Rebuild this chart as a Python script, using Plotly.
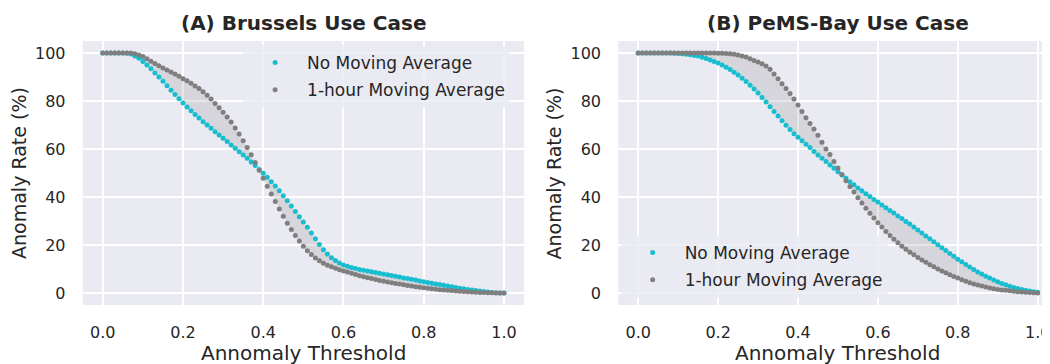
import plotly.graph_objects as go

# ---------------- data ----------------
thresholds = [
    0.00, 0.01, 0.02, 0.03, 0.04, 0.05, 0.06, 0.07, 0.08, 0.09,
    0.10, 0.11, 0.12, 0.13, 0.14, 0.15, 0.16, 0.17, 0.18, 0.19,
    0.20, 0.21, 0.22, 0.23, 0.24, 0.25, 0.26, 0.27, 0.28, 0.29,
    0.30, 0.31, 0.32, 0.33, 0.34, 0.35, 0.36, 0.37, 0.38, 0.39,
    0.40, 0.41, 0.42, 0.43, 0.44, 0.45, 0.46, 0.47, 0.48, 0.49,
    0.50, 0.51, 0.52, 0.53, 0.54, 0.55, 0.56, 0.57, 0.58, 0.59,
    0.60, 0.61, 0.62, 0.63, 0.64, 0.65, 0.66, 0.67, 0.68, 0.69,
    0.70, 0.71, 0.72, 0.73, 0.74, 0.75, 0.76, 0.77, 0.78, 0.79,
    0.80, 0.81, 0.82, 0.83, 0.84, 0.85, 0.86, 0.87, 0.88, 0.89,
    0.90, 0.91, 0.92, 0.93, 0.94, 0.95, 0.96, 0.97, 0.98, 0.99,
    1.00,
]

brussels_no_ma = [
    100, 100, 100, 100, 100, 100, 99.9, 99.6, 98.8, 97.8,
    96.5, 95.0, 93.4, 91.7, 90.0, 88.2, 86.4, 84.5, 82.7, 80.9,
    79.2, 77.5, 75.9, 74.4, 72.9, 71.4, 70.0, 68.6, 67.2, 65.8,
    64.5, 63.1, 61.7, 60.3, 58.9, 57.5, 56.1, 54.6, 53.1, 51.5,
    49.9, 48.2, 46.4, 44.6, 42.6, 40.5, 38.4, 36.3, 34.0, 31.8,
    29.6, 27.4, 25.0, 22.6, 20.2, 18.0, 16.2, 14.7, 13.5, 12.5,
    11.7, 11.1, 10.6, 10.2, 9.8, 9.5, 9.2, 8.9, 8.5, 8.2,
    7.9, 7.6, 7.3, 7.0, 6.7, 6.3, 6.0, 5.7, 5.4, 5.0,
    4.7, 4.4, 4.1, 3.8, 3.5, 3.2, 2.9, 2.6, 2.3, 2.0,
    1.8, 1.5, 1.3, 1.0, 0.8, 0.6, 0.4, 0.25, 0.12, 0.05,
    0,
]

brussels_1h_ma = [
    100, 100, 100, 100, 100, 100, 100, 100, 99.7, 99.2,
    98.5, 97.6, 96.6, 95.6, 94.7, 93.8, 92.9, 92.1, 91.2, 90.3,
    89.3, 88.4, 87.4, 86.3, 85.2, 83.9, 82.4, 80.8, 79.0, 77.2,
    75.3, 73.3, 71.2, 68.8, 66.2, 63.4, 60.6, 57.6, 54.4, 51.1,
    47.8, 44.5, 41.3, 38.1, 35.0, 32.0, 29.1, 26.5, 24.0, 21.7,
    19.5, 17.6, 16.0, 14.6, 13.4, 12.4, 11.6, 10.9, 10.3, 9.7,
    9.2, 8.7, 8.2, 7.7, 7.2, 6.8, 6.4, 6.0, 5.6, 5.2,
    4.9, 4.6, 4.3, 4.0, 3.7, 3.4, 3.1, 2.9, 2.6, 2.4,
    2.2, 2.0, 1.8, 1.6, 1.4, 1.2, 1.1, 1.0, 0.8, 0.7,
    0.6, 0.5, 0.4, 0.3, 0.25, 0.2, 0.15, 0.1, 0.05, 0.02,
    0,
]

pems_no_ma = [
    100, 100, 100, 100, 100, 100, 100, 100, 100, 99.9,
    99.8, 99.7, 99.5, 99.3, 99.0, 98.7, 98.2, 97.7, 97.1, 96.5,
    95.8, 95.0, 94.1, 93.1, 92.0, 90.8, 89.5, 88.1, 86.6, 85.0,
    83.3, 81.5, 79.6, 77.6, 75.6, 73.7, 71.8, 69.9, 68.1, 66.4,
    64.9, 63.4, 62.0, 60.6, 59.0, 57.5, 56.1, 54.8, 53.3, 52.0,
    50.5, 49.2, 47.8, 46.4, 45.1, 43.8, 42.6, 41.4, 40.2, 39.0,
    37.9, 36.7, 35.5, 34.4, 33.3, 32.1, 31.0, 29.8, 28.7, 27.5,
    26.3, 25.0, 23.8, 22.6, 21.4, 20.1, 18.9, 17.7, 16.5, 15.3,
    14.1, 13.0, 11.9, 10.8, 9.8, 8.8, 7.9, 7.0, 6.2, 5.4,
    4.7, 4.0, 3.4, 2.8, 2.3, 1.9, 1.5, 1.1, 0.8, 0.5,
    0.3,
]

pems_1h_ma = [
    100, 100, 100, 100, 100, 100, 100, 100, 100, 100,
    100, 100, 100, 100, 100, 100, 100, 100, 100, 100,
    99.9, 99.9, 99.8, 99.7, 99.5, 99.2, 98.8, 98.3, 97.6, 96.9,
    96.3, 95.5, 94.6, 93.2, 91.2, 89.3, 87.2, 85.2, 83.1, 80.8,
    78.3, 75.6, 73.0, 70.6, 68.3, 65.7, 62.8, 60.0, 57.7, 54.8,
    52.1, 49.4, 46.8, 44.4, 42.1, 39.7, 37.5, 35.3, 33.2, 31.2,
    29.3, 27.5, 25.6, 24.0, 22.4, 20.9, 19.5, 18.2, 17.0, 15.9,
    14.8, 13.8, 12.8, 11.8, 10.9, 10.0, 9.2, 8.4, 7.6, 6.9,
    6.2, 5.5, 4.9, 4.3, 3.8, 3.3, 2.9, 2.5, 2.1, 1.8,
    1.5, 1.3, 1.1, 0.9, 0.7, 0.55, 0.4, 0.3, 0.2, 0.1,
    0,
]

panel_titles = ["(A) Brussels Use Case", "(B) PeMS-Bay Use Case"]
series_names = ["No Moving Average", "1-hour Moving Average"]
x_title = "Annomaly Threshold"
y_title = "Anomaly Rate (%)"
x_ticks = [0.0, 0.2, 0.4, 0.6, 0.8, 1.0]
y_ticks = [0, 20, 40, 60, 80, 100]

# ---------------- styling ----------------
FONT = "DejaVu Sans"
TEXT = "#262626"
CYAN = "#17becf"
GRAY = "#7f7f7f"
BG = "#EAEAF2"

# the page body has an 8px margin, so the figure is laid out 8px up/left
OFF = 8
W, H = 1050 - OFF, 364 - OFF
PLOT_TOP, PLOT_BOTTOM = 41 - OFF, 305 - OFF
PLOT_H = PLOT_BOTTOM - PLOT_TOP

def px_x(v):
    return (v - OFF) / W

def px_y(v):
    return (PLOT_BOTTOM - (v - OFF)) / PLOT_H

fig = go.Figure()

panels = [
    dict(no=brussels_no_ma, ma=brussels_1h_ma, xa="x", ya="y", leg="legend"),
    dict(no=pems_no_ma, ma=pems_1h_ma, xa="x2", ya="y2", leg="legend2"),
]

for i, p in enumerate(panels):
    fig.add_trace(go.Scatter(x=thresholds, y=p["no"], mode="lines",
                             line=dict(width=0, color=CYAN), showlegend=False,
                             hoverinfo="skip", xaxis=p["xa"], yaxis=p["ya"]))
    fig.add_trace(go.Scatter(x=thresholds, y=p["ma"], mode="lines",
                             line=dict(width=0, color=GRAY), fill="tonexty",
                             fillcolor="rgba(128,128,128,0.2)", showlegend=False,
                             hoverinfo="skip", xaxis=p["xa"], yaxis=p["ya"]))
    fig.add_trace(go.Scatter(x=thresholds, y=p["no"], mode="markers",
                             marker=dict(color=CYAN, size=5, line=dict(width=0)),
                             name=series_names[0], legend=p["leg"],
                             legendgroup=f"g{i}a", xaxis=p["xa"], yaxis=p["ya"]))
    fig.add_trace(go.Scatter(x=thresholds, y=p["ma"], mode="markers",
                             marker=dict(color=GRAY, size=5, line=dict(width=0)),
                             name=series_names[1], legend=p["leg"],
                             legendgroup=f"g{i}b", xaxis=p["xa"], yaxis=p["ya"]))

axis_common = dict(
    showgrid=True, gridcolor="white", gridwidth=1.6, zeroline=False,
    showline=False, ticks="outside", tickcolor="rgba(0,0,0,0)",
    tickfont=dict(family=FONT, size=16, color=TEXT),
)

legend_common = dict(
    xanchor="left", yanchor="top", bgcolor="rgba(234,234,242,0.8)",
    borderwidth=0, font=dict(family=FONT, size=17, color=TEXT),
    itemwidth=54, traceorder="grouped", tracegroupgap=2,
)

fig.update_layout(
    width=W, height=H,
    margin=dict(l=0, r=0, t=PLOT_TOP, b=H - PLOT_BOTTOM),
    paper_bgcolor="white", plot_bgcolor=BG,
    font=dict(family=FONT, color=TEXT),
    xaxis=dict(domain=[px_x(83), px_x(526)], range=[-0.05, 1.05],
               tickvals=x_ticks, tickformat=".1f", anchor="y", ticklen=13,
               **axis_common),
    yaxis=dict(domain=[0, 1], range=[-5, 105], tickvals=y_ticks, anchor="x",
               ticklen=13, **axis_common),
    xaxis2=dict(domain=[px_x(620.6), 1], range=[-0.05, 1.0208],
                tickvals=x_ticks, tickformat=".1f", anchor="y2", ticklen=13,
                ticklabeloverflow="allow", **axis_common),
    yaxis2=dict(domain=[0, 1], range=[-5, 105], tickvals=y_ticks, anchor="x2",
                ticklen=13, **axis_common),
    legend=dict(x=px_x(244), y=px_y(45), **legend_common),
    legend2=dict(x=px_x(623), y=px_y(235), **legend_common),
)

annotations = []
for xref, title, ylab_x in [("x", panel_titles[0], 19), ("x2", panel_titles[1], 556.6)]:
    annotations.append(dict(xref=xref, x=0.5, yref="paper", y=1, yanchor="bottom",
                            yshift=4, showarrow=False, text=f"<b>{title}</b>",
                            font=dict(family=FONT, size=20, color=TEXT)))
    annotations.append(dict(xref=xref, x=0.5, yref="paper", y=0, yanchor="top",
                            yshift=-34, showarrow=False, text=x_title,
                            font=dict(family=FONT, size=20, color=TEXT)))
    annotations.append(dict(xref="paper", x=px_x(ylab_x), xanchor="center",
                            yref="paper", y=0.5, yanchor="middle", textangle=-90,
                            showarrow=False, text=y_title,
                            font=dict(family=FONT, size=19, color=TEXT)))
fig.update_layout(annotations=annotations)

fig.write_html("out.html")
